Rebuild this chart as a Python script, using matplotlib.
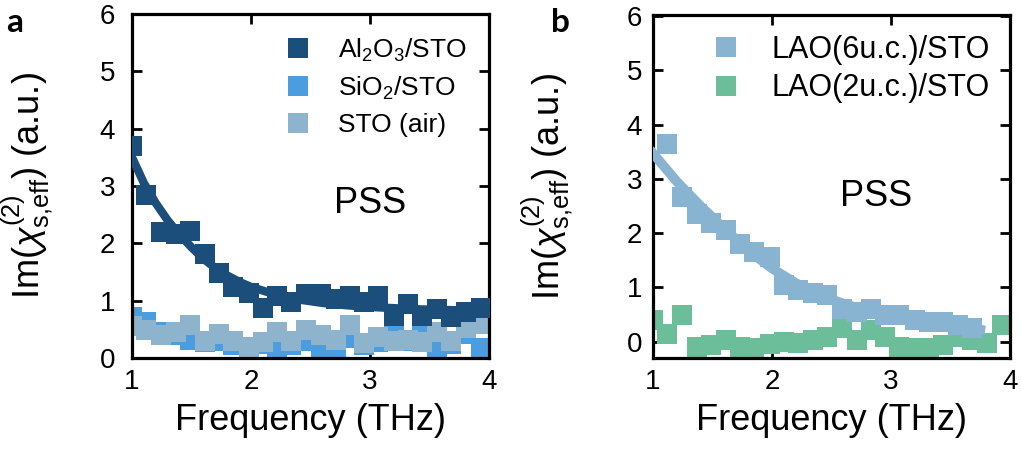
import matplotlib
matplotlib.use("Agg")
import matplotlib.pyplot as plt

plt.rcParams["font.family"] = ["Liberation Sans", "DejaVu Sans"]
plt.rcParams["mathtext.fontset"] = "custom"
plt.rcParams["mathtext.rm"] = "Liberation Sans"
plt.rcParams["mathtext.it"] = "Liberation Sans:italic"
plt.rcParams["mathtext.bf"] = "Liberation Sans:bold"

# --- data ---
freq = [1.00, 1.12, 1.24, 1.37, 1.49, 1.61, 1.73, 1.85, 1.98, 2.10, 2.22, 2.34, 2.46,
        2.59, 2.71, 2.83, 2.95, 3.07, 3.20, 3.32, 3.44, 3.56, 3.68, 3.81, 3.93]

al2o3_sto = [3.70, 2.85, 2.20, 2.16, 2.22, 1.81, 1.49, 1.23, 1.14, 0.88, 1.09, 0.97, 1.12,
             1.12, 1.03, 1.09, 0.97, 1.09, 0.74, 0.94, 0.74, 0.86, 0.71, 0.80, 0.88]
sio2_sto = [0.72, 0.62, 0.45, 0.40, 0.32, 0.28, 0.30, 0.22, 0.20, 0.25, 0.18, 0.22, 0.30,
            0.20, 0.18, 0.35, 0.22, 0.28, 0.45, 0.30, 0.52, 0.20, 0.25, 0.42, 0.18]
sto_air = [0.55, 0.48, 0.40, 0.45, 0.58, 0.30, 0.42, 0.30, 0.20, 0.28, 0.45, 0.30, 0.48,
           0.40, 0.32, 0.58, 0.26, 0.36, 0.30, 0.32, 0.28, 0.45, 0.30, 0.52, 0.60]

fit_freq_a = [1.0, 1.1, 1.2, 1.3, 1.4, 1.5, 1.6, 1.7, 1.8, 1.9, 2.0, 2.2, 2.4, 2.6, 2.8,
              3.0, 3.2, 3.4, 3.6, 3.8, 4.0]
fit_al2o3 = [3.50, 3.05, 2.70, 2.40, 2.15, 1.93, 1.73, 1.57, 1.44, 1.33, 1.24, 1.11, 1.02,
             0.96, 0.92, 0.89, 0.87, 0.85, 0.84, 0.83, 0.82]

freq_lao6 = freq[1:23]
lao6_sto = [3.65, 2.67, 2.36, 2.18, 2.06, 1.81, 1.66, 1.56, 1.04, 0.95, 0.89, 0.86, 0.61,
            0.55, 0.61, 0.49, 0.49, 0.40, 0.37, 0.37, 0.31, 0.25]
lao2_sto = [0.40, 0.15, 0.49, -0.09, -0.06, 0.03, -0.09, -0.12, -0.05, 0.00, -0.03, 0.03,
            0.09, 0.25, 0.03, 0.21, 0.09, -0.09, -0.12, -0.12, -0.06, 0.09, 0.03, -0.03, 0.31]

fit_freq_b = [1.0, 1.2, 1.4, 1.6, 1.8, 2.0, 2.2, 2.4, 2.6, 2.8, 3.0, 3.2, 3.4, 3.6, 3.75]
fit_lao6 = [3.47, 2.95, 2.50, 2.08, 1.68, 1.35, 1.08, 0.86, 0.70, 0.57, 0.47, 0.39, 0.33,
            0.27, 0.22]

C_AL2O3 = "#1b4e7b"
C_SIO2 = "#4b9de0"
C_STO = "#8db4cc"
C_LAO6 = "#88b4d2"
C_LAO2 = "#6cbd9a"

YLABEL = r"Im($\chi^{(2)}_{\mathrm{s{,}eff}}$) (a.u.)"
MS = 14


def style_axes(ax, ylim, ypad):
    ax.set_xlim(1, 4)
    ax.set_ylim(*ylim)
    ax.set_xticks([1, 2, 3, 4])
    ax.set_yticks(range(7))
    ax.tick_params(direction="in", top=True, right=True, length=7, width=2,
                   labelsize=20)
    ax.tick_params(axis="x", pad=8)
    ax.tick_params(axis="y", pad=ypad)
    for sp in ax.spines.values():
        sp.set_linewidth(2.3)
    ax.set_xlabel("Frequency (THz)", fontsize=26, labelpad=6)
    ax.set_ylabel(YLABEL, fontsize=26)


fig = plt.figure(figsize=(10.21, 4.59), dpi=100)
ax_a = fig.add_axes([0.1293, 0.22, 0.3497, 0.7495])
ax_b = fig.add_axes([0.6396, 0.22, 0.3497, 0.7473])

# panel a
ax_a.plot(freq, sio2_sto, "s", color=C_SIO2, ms=MS, mew=0, label="SiO$_2$/STO", zorder=2)
ax_a.plot(freq, sto_air, "s", color=C_STO, ms=MS, mew=0, label="STO (air)", zorder=2)
ax_a.plot(freq, al2o3_sto, "s", color=C_AL2O3, ms=MS, mew=0, label="Al$_2$O$_3$/STO", zorder=3)
ax_a.plot(fit_freq_a, fit_al2o3, "-", color=C_AL2O3, lw=6, zorder=3)
handles, labels = ax_a.get_legend_handles_labels()
order = [2, 0, 1]
ax_a.legend([handles[i] for i in order], [labels[i] for i in order], loc="upper right",
            frameon=False, fontsize=19, labelspacing=0.42, handletextpad=1.0,
            borderaxespad=0.45, handlelength=1.0)
ax_a.text(3.0, 2.7, "PSS", fontsize=26, ha="center", va="center")
style_axes(ax_a, (0, 6), 12)
ax_a.yaxis.set_label_coords(-0.215, 0.5)

# panel b
ax_b.plot(freq_lao6, lao6_sto, "s", color=C_LAO6, ms=MS, mew=0, label="LAO(6u.c.)/STO", zorder=3)
ax_b.plot(fit_freq_b, fit_lao6, "-", color=C_LAO6, lw=7, zorder=3)
ax_b.plot(freq, lao2_sto, "s", color=C_LAO2, ms=MS, mew=0, label="LAO(2u.c.)/STO", zorder=2)
ax_b.legend(loc="upper right", frameon=False, fontsize=22, labelspacing=0.28,
            handletextpad=1.0, borderaxespad=0.25, handlelength=1.0)
ax_b.text(2.87, 2.67, "PSS", fontsize=26, ha="center", va="center")
style_axes(ax_b, (-0.3, 6.02), 8)
ax_b.yaxis.set_label_coords(-0.218, 0.5)

fig.text(0.006, 0.93, "a", fontsize=24, fontweight="bold", family="Lato")
fig.text(0.540, 0.93, "b", fontsize=24, fontweight="bold", family="Lato")

fig.savefig("out.png", dpi=100)
